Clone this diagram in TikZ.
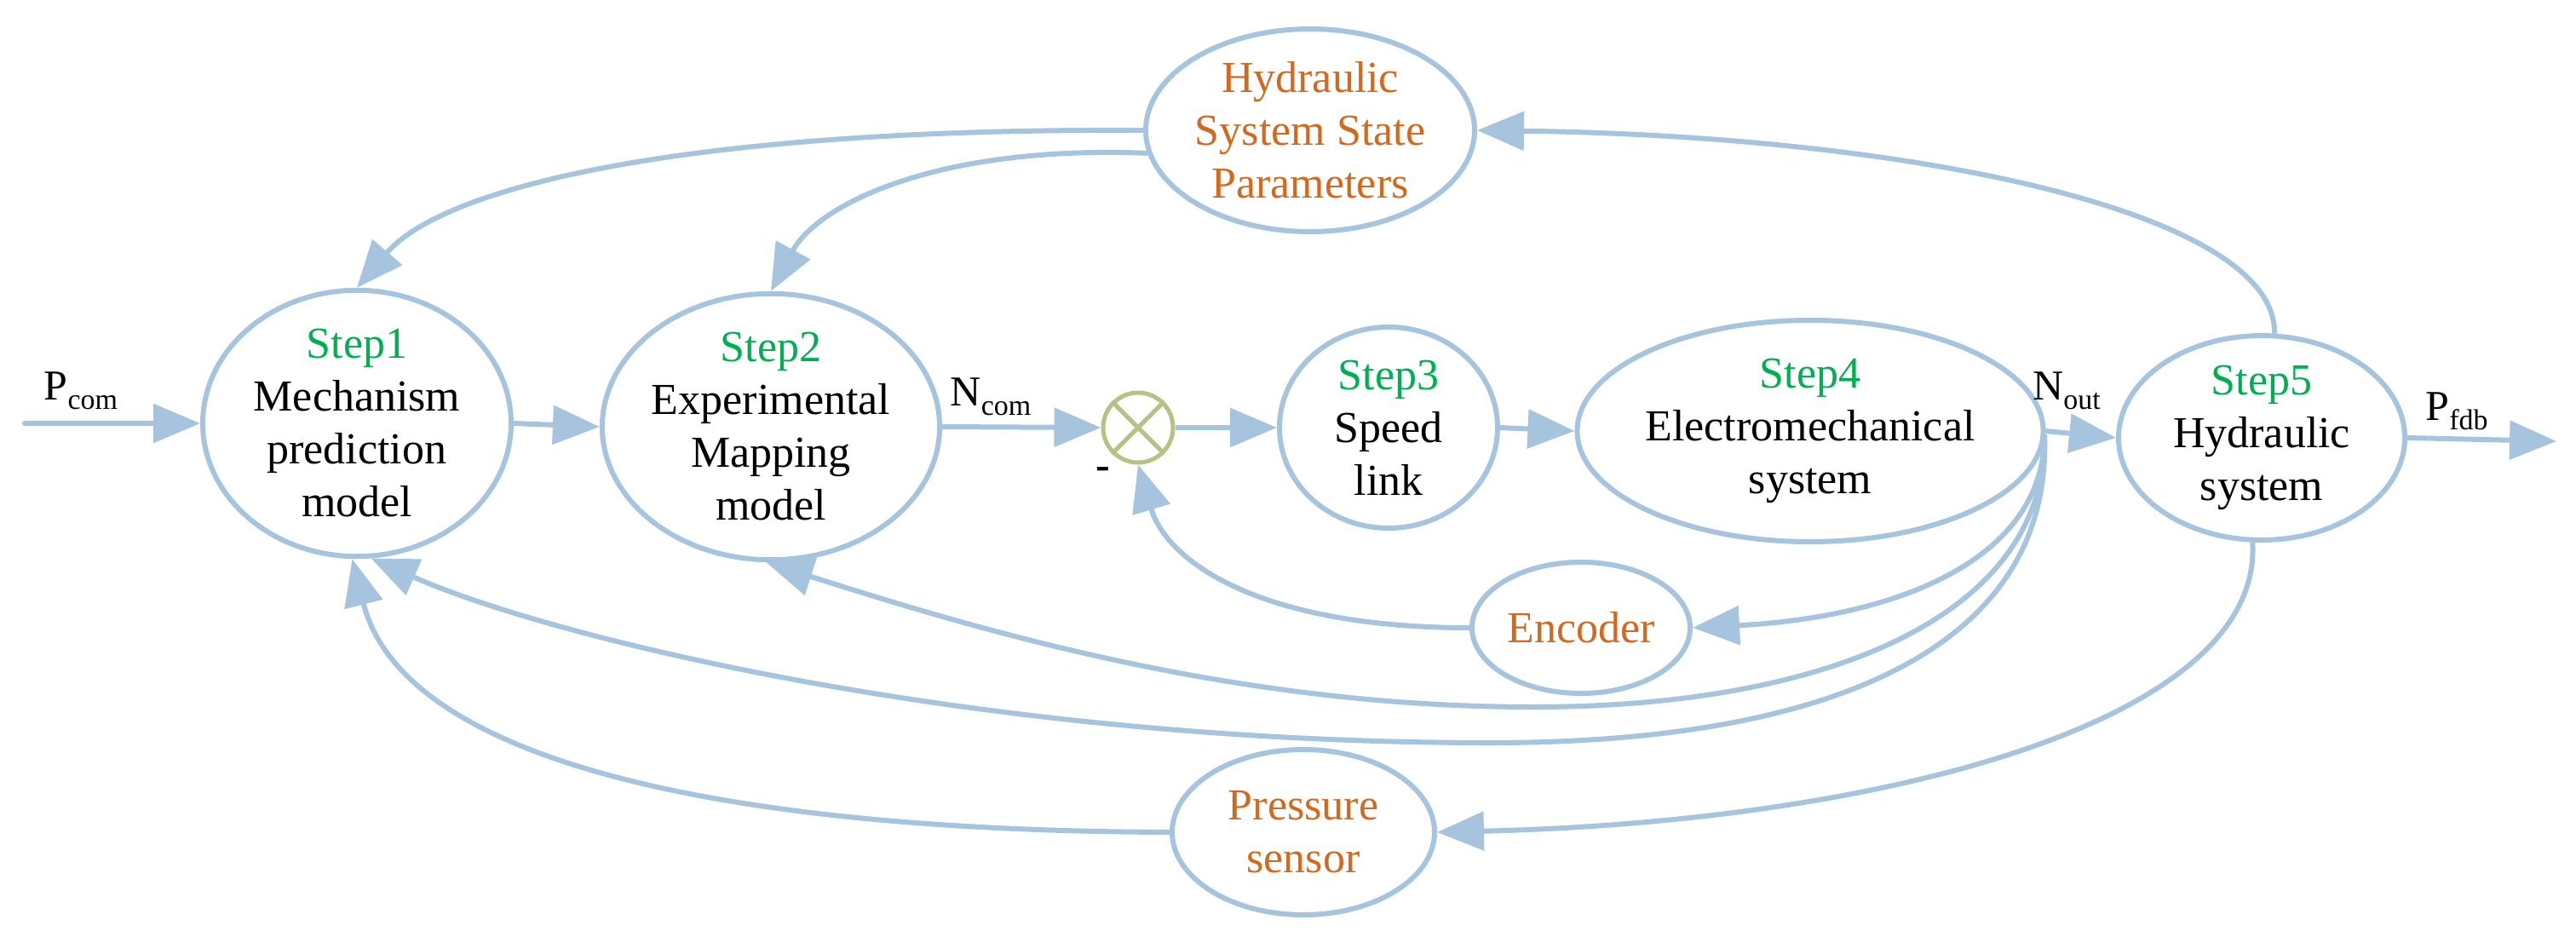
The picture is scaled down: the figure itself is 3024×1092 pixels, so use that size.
\documentclass[tikz,border=0pt]{standalone}
\usepackage{fontspec}
\setmainfont{Liberation Serif}
\usetikzlibrary{shapes.geometric,arrows.meta}
\definecolor{lb}{HTML}{A7C4DF}
\definecolor{gr}{HTML}{00B050}
\definecolor{orq}{HTML}{D2691E}
\definecolor{ol}{HTML}{B3C383}
\newcommand{\sbs}[1]{\raisebox{-0.22em}{\fontsize{34}{34}\selectfont #1}}
\begin{document}
\begin{tikzpicture}[x=1pt,y=-1pt,
  el/.style={draw=lb,line width=6pt,ellipse,inner sep=0pt,align=center,
    font=\fontsize{52}{62}\selectfont},
  arr/.style={draw=lb,line width=6pt,-{Triangle[length=55pt,width=45pt]}},
  ln/.style={draw=lb,line width=6pt},
  lab/.style={font=\fontsize{50}{50}\selectfont,inner sep=0pt}]
\useasboundingbox (0,0) rectangle (3024,1092);
\node[el,minimum width=362pt,minimum height=302pt] (s1) at (419,497)
  {\textcolor{gr}{Step1}\\Mechanism\\prediction\\model};
\node[el,minimum width=362pt,minimum height=302pt] (s2) at (905,501)
  {\textcolor{gr}{Step2}\\Experimental\\Mapping\\model};
\node[circle,draw=ol,line width=5pt,minimum size=82pt,inner sep=0pt] (sum) at (1336,502) {};
\draw[ol,line width=5pt] (sum.45) -- (sum.225) (sum.135) -- (sum.315);
\node[el,minimum width=256pt,minimum height=236pt] (s3) at (1630,502)
  {\textcolor{gr}{Step3}\\Speed\\link};
\node[el,minimum width=476pt,minimum height=260pt] (s4) at (2125,506)
  {\textcolor{gr}{Step4}\\Electromechanical\\system};
\node[el,minimum width=336pt,minimum height=236pt] (s5) at (2655,514)
  {\textcolor{gr}{Step5}\\Hydraulic\\system};
\node[el,minimum width=386pt,minimum height=238pt,text=orq] (hs) at (1538,153)
  {Hydraulic\\System State\\Parameters};
\node[el,minimum width=256pt,minimum height=154pt,text=orq] (enc) at (1856,737) {Encoder};
\node[el,minimum width=308pt,minimum height=194pt,text=orq] (ps) at (1530,977) {Pressure\\sensor};
\coordinate (pin) at (29,497);
\coordinate (pout) at (3001,518);
\coordinate (j) at (2400,510);
\node[lab] (lpc) at (95,459) {P\sbs{com}};
\node[lab] (lnc) at (1163,466) {N\sbs{com}};
\node[lab] (lno) at (2426,459) {N\sbs{out}};
\node[lab] (lpf) at (2884,483) {P\sbs{fdb}};
\node[lab] (lm) at (1295,556) {\textbf{-}};
\draw[arr,line cap=round] (pin) -- (s1.west);
\draw[arr] (s1.east) -- (s2.west);
\draw[arr] (s2.east) -- (sum.west);
\draw[arr] (sum.east) -- (s3.west);
\draw[arr] (s3.east) -- (s4.west);
\draw[arr] (s4.east) -- (s5.west);
\draw[arr] (s5.east) -- (pout);
\draw[arr] (hs.west) .. controls (800,150) and (520,220) .. (s1.north);
\draw[arr] (hs.188) .. controls (1100,170) and (960,240) .. (s2.north);
\draw[arr] (s5.83) .. controls (2673,250) and (2250,160) .. (hs.east);
\draw[arr] (s5.-95) .. controls (2657,850) and (2200,965) .. (ps.east);
\draw[arr] (ps.west) .. controls (800,975) and (470,880) .. (s1.-92);
\draw[arr] (j) .. controls (2400,660) and (2220,725) .. (enc.east);
\draw[arr] (enc.west) .. controls (1480,737) and (1370,660) .. (sum.south);
\draw[arr] (j) .. controls (2405,720) and (2150,830) .. (1800,830)
  .. controls (1450,830) and (1150,740) .. (s2.-92);
\draw[arr] (j) .. controls (2410,760) and (2150,872) .. (1750,872)
  .. controls (1150,872) and (650,750) .. (s1.-84);
\end{tikzpicture}
\end{document}
